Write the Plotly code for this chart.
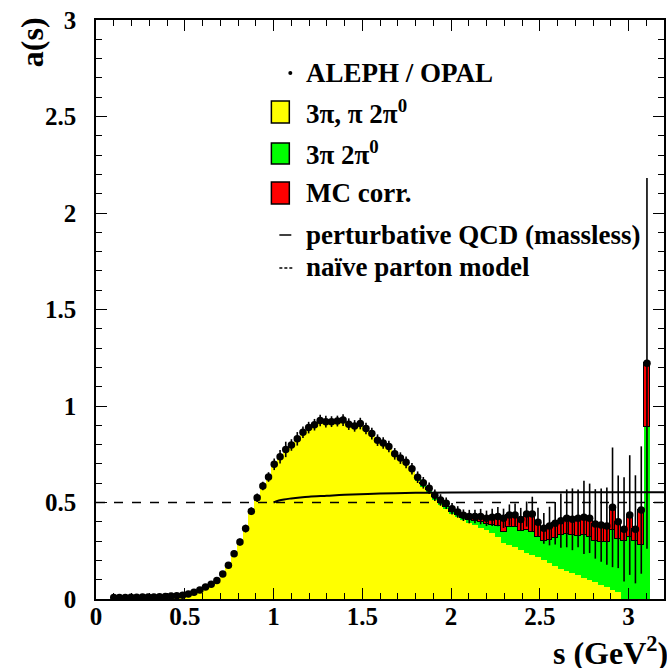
import plotly.graph_objects as go

# ---------------- data ----------------
s_bins = [0.100, 0.132, 0.165, 0.197, 0.229, 0.262, 0.294, 0.326, 0.358, 0.391,
          0.423, 0.455, 0.488, 0.520, 0.552, 0.585, 0.617, 0.649, 0.681, 0.714,
          0.746, 0.778, 0.811, 0.843, 0.875, 0.908, 0.940, 0.972, 1.004, 1.037,
          1.069, 1.101, 1.134, 1.166, 1.198, 1.231, 1.263, 1.295, 1.327, 1.360,
          1.392, 1.424, 1.457, 1.489, 1.521, 1.554, 1.586, 1.618, 1.650, 1.683,
          1.715, 1.747, 1.780, 1.812, 1.844, 1.877, 1.909, 1.941, 1.973, 2.006,
          2.038, 2.070, 2.103, 2.135, 2.167, 2.200, 2.232, 2.264, 2.296, 2.329,
          2.361, 2.393, 2.426, 2.458, 2.490, 2.523, 2.555, 2.587, 2.619, 2.652,
          2.684, 2.716, 2.749, 2.781, 2.813, 2.846, 2.878, 2.910, 2.942, 2.975,
          3.007, 3.039, 3.072, 3.104]
bin_width = 0.0335

a_data = [0.008, 0.008, 0.008, 0.009, 0.009, 0.010, 0.010, 0.011, 0.012, 0.013,
          0.015, 0.017, 0.020, 0.026, 0.035, 0.046, 0.062, 0.076, 0.096, 0.130,
          0.175, 0.235, 0.295, 0.365, 0.455, 0.525, 0.585, 0.632, 0.698, 0.737,
          0.775, 0.798, 0.830, 0.864, 0.888, 0.903, 0.925, 0.919, 0.919, 0.922,
          0.927, 0.906, 0.897, 0.909, 0.883, 0.857, 0.823, 0.808, 0.790, 0.752,
          0.730, 0.708, 0.675, 0.631, 0.602, 0.574, 0.538, 0.513, 0.496, 0.468,
          0.451, 0.434, 0.427, 0.427, 0.427, 0.418, 0.423, 0.427, 0.418, 0.435,
          0.435, 0.412, 0.440, 0.440, 0.398, 0.366, 0.378, 0.392, 0.406, 0.418,
          0.413, 0.418, 0.423, 0.418, 0.389, 0.383, 0.378, 0.475, 0.400, 0.361,
          0.435, 0.361, 0.461, 1.221]

a_err = [0.003, 0.003, 0.003, 0.003, 0.003, 0.003, 0.003, 0.003, 0.003, 0.003,
         0.004, 0.004, 0.004, 0.005, 0.006, 0.007, 0.008, 0.009, 0.010, 0.012,
         0.014, 0.016, 0.018, 0.020, 0.020, 0.022, 0.022, 0.025, 0.030, 0.035,
         0.040, 0.030, 0.035, 0.030, 0.030, 0.030, 0.030, 0.030, 0.028, 0.028,
         0.030, 0.030, 0.030, 0.030, 0.030, 0.030, 0.030, 0.030, 0.030, 0.030,
         0.030, 0.030, 0.030, 0.030, 0.030, 0.030, 0.030, 0.030, 0.030, 0.030,
         0.030, 0.030, 0.035, 0.035, 0.040, 0.040, 0.045, 0.050, 0.050, 0.055,
         0.060, 0.060, 0.065, 0.090, 0.075, 0.080, 0.100, 0.110, 0.140, 0.150,
         0.160, 0.150, 0.190, 0.180, 0.180, 0.190, 0.200, 0.310, 0.240, 0.270,
         0.310, 0.280, 0.330, 0.960]

yellow_3pi = [0.008, 0.008, 0.008, 0.009, 0.009, 0.010, 0.010, 0.011, 0.012, 0.013,
              0.015, 0.017, 0.020, 0.026, 0.035, 0.046, 0.062, 0.076, 0.096, 0.130,
              0.175, 0.235, 0.295, 0.365, 0.455, 0.525, 0.585, 0.632, 0.698, 0.737,
              0.775, 0.798, 0.830, 0.864, 0.888, 0.903, 0.925, 0.919, 0.919, 0.922,
              0.927, 0.906, 0.897, 0.909, 0.883, 0.857, 0.823, 0.808, 0.787, 0.748,
              0.724, 0.700, 0.665, 0.615, 0.585, 0.555, 0.518, 0.492, 0.468, 0.444,
              0.425, 0.408, 0.395, 0.382, 0.368, 0.355, 0.340, 0.322, 0.292, 0.280,
              0.268, 0.252, 0.240, 0.228, 0.216, 0.200, 0.186, 0.172, 0.158, 0.146,
              0.134, 0.122, 0.110, 0.098, 0.086, 0.073, 0.060, 0.048, 0.035, 0.000,
              0.000, 0.000, 0.000, 0.000]

green_5pi = [0.0] * 48 + [
             0.003, 0.004, 0.006, 0.008, 0.010, 0.010, 0.010, 0.010, 0.010, 0.008,
             0.010, 0.008, 0.010, 0.012, 0.015, 0.023, 0.032, 0.035, 0.043, 0.056,
             0.053, 0.095, 0.104, 0.098, 0.120, 0.117, 0.104, 0.100, 0.119, 0.143,
             0.172, 0.189, 0.196, 0.203, 0.220, 0.222, 0.214, 0.222, 0.235, 0.307,
             0.275, 0.300, 0.320, 0.300, 0.280, 0.893]

red_mc = [0.0] * 48 + [
          0.000, 0.000, 0.000, 0.000, 0.000, 0.006, 0.007, 0.009, 0.010, 0.013,
          0.018, 0.016, 0.016, 0.014, 0.017, 0.022, 0.027, 0.028, 0.040, 0.049,
          0.073, 0.060, 0.063, 0.062, 0.080, 0.095, 0.078, 0.066, 0.073, 0.077,
          0.076, 0.083, 0.083, 0.093, 0.093, 0.098, 0.089, 0.088, 0.083, 0.120,
          0.090, 0.061, 0.115, 0.061, 0.181, 0.328]

qcd_s = [1.00, 1.03, 1.06, 1.10, 1.15, 1.20, 1.30, 1.40, 1.60, 1.80, 2.00, 2.50, 3.20]
qcd_a = [0.500, 0.510, 0.516, 0.521, 0.526, 0.530, 0.535, 0.540, 0.546, 0.550, 0.552, 0.553, 0.553]

parton_s = [0.0, 3.2]
parton_a = [0.5, 0.5]

x_range = [0, 3.2]
y_range = [0, 3]

# ---------------- layout geometry ----------------
W, H = 667, 668
L, R, T, B = 96, 1, 20, 69
PW, PH = W - L - R, H - T - B


def px(xp):
    return (xp - L) / PW


def py(yp):
    return (H - B - yp) / PH


FONT = "Liberation Serif"

fig = go.Figure()

fig.add_trace(go.Bar(x=s_bins, y=yellow_3pi, width=bin_width,
                     marker=dict(color="#ffff00", line=dict(width=0)),
                     showlegend=False, hoverinfo="skip"))
fig.add_trace(go.Bar(x=s_bins, y=green_5pi, width=bin_width,
                     marker=dict(color="#00ff00", line=dict(width=0)),
                     showlegend=False, hoverinfo="skip"))
fig.add_trace(go.Bar(x=s_bins, y=red_mc, width=bin_width,
                     marker=dict(color="#ff0000", line=dict(width=1, color="black")),
                     showlegend=False, hoverinfo="skip"))

fig.add_trace(go.Scatter(x=parton_s, y=parton_a, mode="lines",
                         line=dict(color="black", width=1.5, dash="dash"),
                         showlegend=False, hoverinfo="skip"))
fig.add_trace(go.Scatter(x=qcd_s, y=qcd_a, mode="lines",
                         line=dict(color="black", width=2, shape="spline"),
                         showlegend=False, hoverinfo="skip"))

fig.add_trace(go.Scatter(x=s_bins, y=a_data, mode="markers",
                         marker=dict(color="black", size=7.5),
                         error_y=dict(type="data", array=a_err, color="black",
                                      thickness=1.6, width=0),
                         showlegend=False))

axis_common = dict(
    showline=True, linecolor="black", linewidth=1.5, mirror="ticks",
    ticks="inside", tickcolor="black", tickwidth=1.3, ticklen=11,
    showgrid=False, zeroline=False,
    tickfont=dict(family=FONT, size=25, color="black", weight="bold"),
)

fig.update_xaxes(range=x_range, dtick=0.5, tick0=0,
                 minor=dict(dtick=0.1, ticks="inside", ticklen=6, tickcolor="black",
                            tickwidth=1.2, showgrid=False),
                 ticklabelstandoff=-6, **axis_common)
fig.update_yaxes(range=y_range, dtick=0.5, tick0=0,
                 minor=dict(dtick=0.1, ticks="inside", ticklen=6, tickcolor="black",
                            tickwidth=1.2, showgrid=False),
                 ticklabelstandoff=13, **axis_common)

shapes = []
annotations = []

# axis titles
annotations.append(dict(xref="paper", yref="paper", x=px(32), y=py(42),
                        text="a(s)", textangle=-90, showarrow=False,
                        xanchor="center", yanchor="middle",
                        font=dict(family=FONT, size=32, color="black", weight="bold")))
annotations.append(dict(xref="paper", yref="paper", x=px(553), y=py(651),
                        text="s (GeV<sup>2</sup>)", showarrow=False,
                        xanchor="left", yanchor="middle",
                        font=dict(family=FONT, size=32, color="black", weight="bold")))

# custom legend
leg_font = dict(family=FONT, size=27, color="black", weight="bold")
text_x = px(305)
legend_rows = [
    ("ALEPH / OPAL", 73),
    ("3π, π 2π<sup>0</sup>", 112),
    ("3π 2π<sup>0</sup>", 153),
    ("MC corr.", 193),
    ("perturbative QCD (massless)", 235),
    ("naïve parton model", 267),
]
for txt, yc in legend_rows:
    annotations.append(dict(xref="paper", yref="paper", x=text_x, y=py(yc),
                            text=txt, showarrow=False, xanchor="left",
                            yanchor="middle", font=leg_font))

# marker dot
shapes.append(dict(type="circle", xref="paper", yref="paper",
                   x0=px(289), x1=px(293), y0=py(75), y1=py(71),
                   fillcolor="black", line=dict(color="black", width=0)))
# boxes
for col, y0, y1 in [("#ffff00", 101, 123), ("#00ff00", 143, 164), ("#ff0000", 182, 204)]:
    shapes.append(dict(type="rect", xref="paper", yref="paper",
                       x0=px(272), x1=px(290), y0=py(y1), y1=py(y0),
                       fillcolor=col, line=dict(color="black", width=1.5)))
# line samples
shapes.append(dict(type="line", xref="paper", yref="paper",
                   x0=px(280), x1=px(292), y0=py(235), y1=py(235),
                   line=dict(color="black", width=1.5)))
shapes.append(dict(type="line", xref="paper", yref="paper",
                   x0=px(280), x1=px(293), y0=py(268), y1=py(268),
                   line=dict(color="black", width=1.5, dash="3px,2px")))

fig.update_layout(
    width=W, height=H,
    margin=dict(l=L, r=R, t=T, b=B, pad=0),
    paper_bgcolor="white", plot_bgcolor="white",
    barmode="stack", bargap=0,
    showlegend=False,
    shapes=shapes, annotations=annotations,
)

fig.write_html("out.html",
               config={"displayModeBar": False},
               post_script="document.body.style.margin='0px';document.body.style.overflow='hidden';")
